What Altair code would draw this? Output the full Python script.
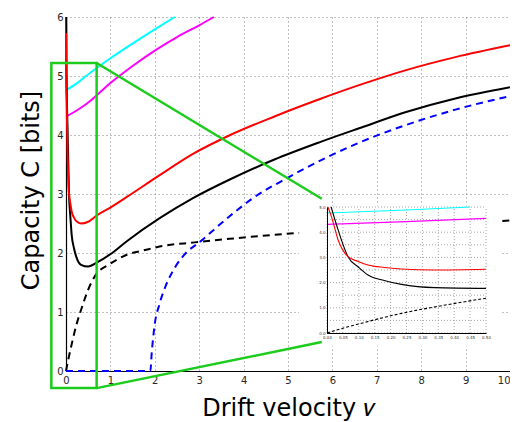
import altair as alt
import pandas as pd

# ---------------- data (drift velocity v  ->  capacity C [bits]) ----------------
cyan_v = [0.0, 0.25, 0.45, 0.7, 1.0, 1.5, 2.0, 2.45]
cyan_C = [4.76, 4.88, 5.0, 5.14, 5.30, 5.55, 5.79, 6.0]

magenta_v = [0.0, 0.25, 0.5, 0.7, 1.0, 1.5, 2.0, 2.5, 3.0, 3.33]
magenta_C = [4.31, 4.42, 4.55, 4.68, 4.88, 5.17, 5.43, 5.66, 5.86, 6.0]

red_v = [0.001, 0.003, 0.014, 0.035, 0.066, 0.1, 0.129, 0.18, 0.233, 0.339, 0.5, 0.7,
         1.0, 1.37, 2.11, 2.86, 3.7, 4.68, 5.72, 6.7, 7.66, 8.77, 10.0]
red_C = [5.73, 5.0, 4.62, 3.69, 3.03, 2.83, 2.70, 2.60, 2.54, 2.50, 2.53, 2.64,
         2.77, 2.95, 3.32, 3.68, 4.0, 4.31, 4.61, 4.87, 5.10, 5.32, 5.52]

black_v = [0.005, 0.013, 0.035, 0.066, 0.1, 0.129, 0.18, 0.234, 0.339, 0.5, 0.7,
           1.0, 1.37, 2.11, 2.86, 3.7, 4.68, 5.72, 6.7, 7.66, 8.77, 10.0]
black_C = [6.0, 5.0, 4.09, 3.03, 2.60, 2.30, 2.08, 1.93, 1.80, 1.77, 1.84,
           1.98, 2.20, 2.59, 2.93, 3.25, 3.58, 3.88, 4.14, 4.39, 4.62, 4.81]

bdash_v = [0.0, 0.05, 0.1, 0.234, 0.35, 0.5, 0.67, 0.96, 1.37, 1.78, 2.11, 2.9,
           3.68, 4.24, 5.25, 6.0, 7.0, 8.0, 9.0, 10.0]
bdash_C = [0.0, 0.19, 0.36, 0.78, 1.06, 1.38, 1.63, 1.80, 1.97, 2.05, 2.11, 2.18,
           2.24, 2.28, 2.34, 2.38, 2.43, 2.47, 2.51, 2.55]

blue_v = [0.0, 1.9, 1.93, 2.0, 2.1, 2.25, 2.45, 2.7, 3.0, 3.68, 4.23, 4.98, 5.87,
          6.6, 7.66, 8.77, 10.0]
blue_C = [0.0, 0.0, 0.3, 0.8, 1.12, 1.45, 1.75, 2.0, 2.18, 2.62, 2.94, 3.27, 3.62,
          3.87, 4.17, 4.43, 4.66]

main_xticks = [0, 1, 2, 3, 4, 5, 6, 7, 8, 9, 10]
main_yticks = [0, 1, 2, 3, 4, 5, 6]
inset_xticks = [0, 0.05, 0.1, 0.15, 0.2, 0.25, 0.3, 0.35, 0.4, 0.45, 0.5]
inset_yticks = [0, 0.5, 1, 1.5, 2, 2.5, 3, 3.5, 4, 4.5, 5]

# zoom box (main-axis units), inset backdrop and connector end points
ZOOM_V = (-0.33, 0.69)
ZOOM_C = (-0.29, 5.22)
INSET_BG_V = (5.25, 9.82)
INSET_BG_C = (0.42, 2.80)
CONNECT_V = 5.76
CONNECT_C = (2.92, 0.49)

W, H = 444, 354
GREEN = "#1ccc1c"
FONT = "DejaVu Sans"


def df(v, c):
    return pd.DataFrame({"v": v, "C": c})


# ---------------- main panel ----------------
xs_main = alt.Scale(domain=[0, 10], nice=False, zero=False)
ys_main = alt.Scale(domain=[0, 6], nice=False, zero=False)

x_axis = alt.Axis(values=main_xticks, grid=True, gridDash=[1, 3], gridColor="#808080",
                  gridWidth=1, domainColor="#000000", domainWidth=1.2, ticks=False,
                  labelFont=FONT, labelFontSize=10, labelColor="#262626", labelPadding=4,
                  labelFlush=False,
                  labelAlign=alt.ExprRef("datum.value == 10 ? 'right' : 'center'"),
                  title="Drift velocity 𝑣", titleFont=FONT,
                  titleFontSize=24, titleFontWeight="normal", titleColor="#000000",
                  titleY=44, titleBaseline="alphabetic")
y_axis = alt.Axis(values=main_yticks, grid=True, gridDash=[1, 3], gridColor="#808080",
                  gridWidth=1, domainColor="#000000", domainWidth=1.2, ticks=False,
                  labelFont=FONT, labelFontSize=10, labelColor="#262626", labelPadding=3,
                  title="Capacity C  [bits]", titleFont=FONT, titleFontSize=24,
                  titleFontWeight="normal", titleColor="#000000", titleX=-23, titleY=173)

X = alt.X("v:Q", scale=xs_main, axis=x_axis)
Y = alt.Y("C:Q", scale=ys_main, axis=y_axis)


def main_line(v, c, color, dash=None, width=2.0):
    kw = dict(color=color, strokeWidth=width, interpolate="monotone")
    if dash:
        kw["strokeDash"] = dash
    return alt.Chart(df(v, c)).mark_line(**kw).encode(x=X, y=Y)


main_layers = [
    main_line(cyan_v, cyan_C, "#00ffff"),
    main_line(magenta_v, magenta_C, "#ff00ff"),
    main_line(bdash_v, bdash_C, "#000000", dash=[7, 5]),
    main_line(blue_v, blue_C, "#0000ff", dash=[7, 5]),
    main_line(black_v, black_C, "#000000"),
    main_line(red_v, red_C, "#ff0000"),
]

bg = alt.Chart(pd.DataFrame({"v": [INSET_BG_V[0]], "v2": [INSET_BG_V[1]],
                             "C": [INSET_BG_C[0]], "C2": [INSET_BG_C[1]]})).mark_rect(
    fill="white").encode(x=X, x2="v2:Q", y=Y, y2="C2:Q")

zoom_box = alt.Chart(pd.DataFrame({"v": [ZOOM_V[0]], "v2": [ZOOM_V[1]],
                                   "C": [ZOOM_C[0]], "C2": [ZOOM_C[1]]})).mark_rect(
    fill=None, stroke=GREEN, strokeWidth=2.5).encode(x=X, x2="v2:Q", y=Y, y2="C2:Q")

connectors = alt.Chart(pd.DataFrame({
    "v": [ZOOM_V[1], ZOOM_V[1]], "v2": [CONNECT_V, CONNECT_V],
    "C": [ZOOM_C[1], ZOOM_C[0]], "C2": [CONNECT_C[0], CONNECT_C[1]],
})).mark_rule(color=GREEN, strokeWidth=2.5).encode(x=X, x2="v2:Q", y=Y, y2="C2:Q")

main = alt.layer(*main_layers, bg, zoom_box, connectors)

# ---------------- inset panel ----------------
xs_in = alt.Scale(domain=[0, 0.5], range=[261, 420], nice=False, zero=False)
ys_in = alt.Scale(domain=[0, 5], range=[316, 190], nice=False, zero=False)

xi_axis = alt.Axis(values=inset_xticks, grid=False, orient="bottom", offset=-38,
                   domainColor="#000000", domainWidth=1, ticks=False, labelFont=FONT,
                   labelFontSize=4, labelColor="#333333", labelPadding=2, labelFlush=False,
                   title=None, zindex=1)
yi_axis = alt.Axis(values=inset_yticks, grid=False, orient="left", offset=-261,
                   domainColor="#000000", domainWidth=1, ticks=False, labelFont=FONT,
                   labelFontSize=4, labelColor="#333333", labelPadding=2,
                   title=None, zindex=1)

XI = alt.X("v:Q", scale=xs_in, axis=xi_axis)
YI = alt.Y("C:Q", scale=ys_in, axis=yi_axis)

vgrid = alt.Chart(pd.DataFrame({"v": inset_xticks})).mark_rule(
    color="#909090", strokeDash=[1, 2], strokeWidth=0.8).encode(
    x=XI, y=alt.YDatum(0), y2=alt.Y2Datum(5))
hgrid = alt.Chart(pd.DataFrame({"C": inset_yticks})).mark_rule(
    color="#909090", strokeDash=[1, 2], strokeWidth=0.8).encode(
    y=YI, x=alt.XDatum(0), x2=alt.X2Datum(0.5))


def inset_line(v, c, color, dash=None):
    kw = dict(color=color, strokeWidth=1.1, interpolate="monotone")
    if dash:
        kw["strokeDash"] = dash
    return alt.Chart(df(v, c)).transform_filter(
        "datum.v <= 0.5 && datum.C <= 5.001").mark_line(**kw).encode(x=XI, y=YI)


inset = alt.layer(
    vgrid, hgrid,
    inset_line(cyan_v, cyan_C, "#00ffff"),
    inset_line(magenta_v, magenta_C, "#ff00ff"),
    inset_line(bdash_v, bdash_C, "#000000", dash=[3, 2]),
    inset_line(black_v, black_C, "#000000"),
    inset_line(red_v, red_C, "#ff0000"),
)

chart = alt.layer(main, inset).resolve_scale(x="independent", y="independent").properties(
    width=W, height=H,
    autosize=alt.AutoSizeParams(type="none"),
    padding={"left": 58, "top": 9, "right": 0, "bottom": 51},
).configure_view(stroke=None)

chart.save("out.html", embed_options={"renderer": "svg", "actions": False})
